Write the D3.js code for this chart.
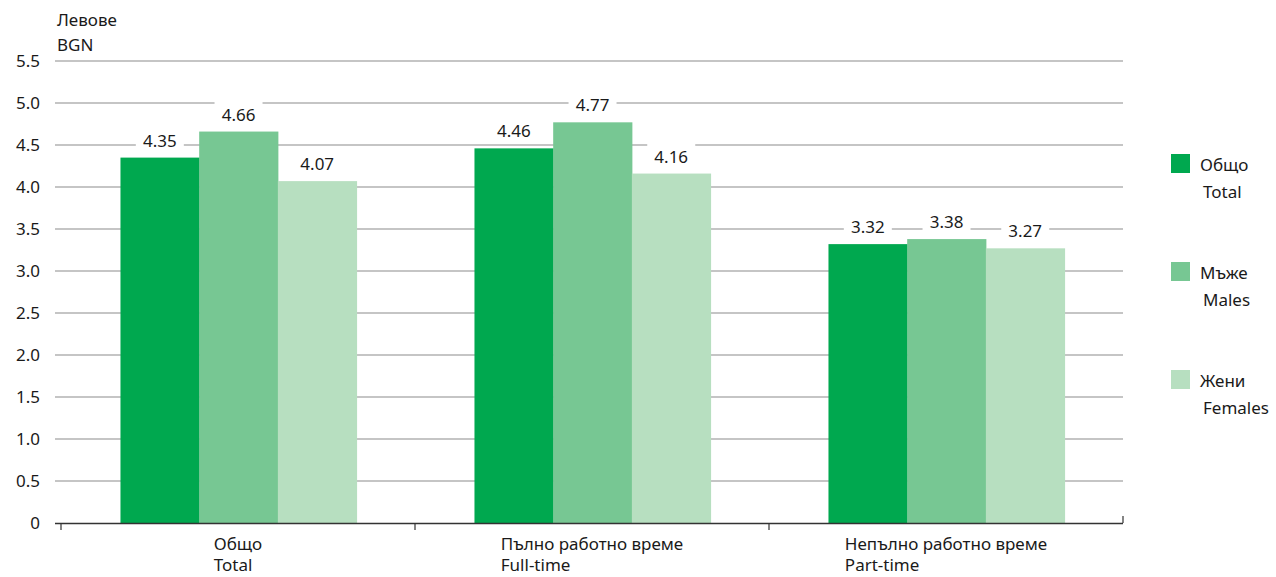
<!DOCTYPE html>
<html><head><meta charset="utf-8">
<script src="https://cdn.jsdelivr.net/npm/d3@7"></script>
<style>body{margin:0;background:#fff}svg{display:block}text{font-family:"Noto Sans","Open Sans",sans-serif;fill:#1a1a1a}</style>
</head><body><svg id="c" width="1276" height="577"></svg>
<script>
const categoriesBg = ["Общо","Пълно работно време","Непълно работно време"];
const categoriesEn = ["Total","Full-time","Part-time"];
const seriesBg = ["Общо","Мъже","Жени"];
const seriesEn = ["Total","Males","Females"];
const totalVals = [4.35, 4.46, 3.32];
const maleVals = [4.66, 4.77, 3.38];
const femaleVals = [4.07, 4.16, 3.27];
const yTicks = [0,0.5,1.0,1.5,2.0,2.5,3.0,3.5,4.0,4.5,5.0,5.5];
const colors = ["#00a84f","#77c793","#b7dfc0"];

const svg = d3.select("#c");
const y = d3.scaleLinear().domain([0,5.5]).range([523,61]);
const x0 = d3.scaleBand().domain(d3.range(3)).range([61,1123]).paddingInner(0).paddingOuter(0);
const bw = x0.bandwidth();
const inner = d3.scaleBand().domain(d3.range(3)).range([bw*0.168, bw*0.835]).padding(0);
const series = [totalVals, maleVals, femaleVals];

// gridlines
svg.append("g").selectAll("line").data(yTicks.filter(d=>d>0)).join("line")
 .attr("x1",55).attr("x2",1123).attr("y1",d=>y(d)).attr("y2",d=>y(d))
 .attr("stroke","#8c8c8c").attr("stroke-width",1.2);
// y labels
svg.append("g").selectAll("text").data(yTicks).join("text")
 .attr("x",40).attr("y",d=>y(d)+6).attr("text-anchor","end").attr("font-size",17)
 .text(d=>d===0?"0":d.toFixed(1));
svg.append("text").attr("x",57).attr("y",26).attr("font-size",17).text("Левове");
svg.append("text").attr("x",57).attr("y",51).attr("font-size",17).text("BGN");

// bars
series.forEach((vals,si)=>{
  const g = svg.append("g");
  g.selectAll("rect").data(vals).join("rect")
   .attr("x",(d,i)=>x0(i)+inner(si)).attr("width",inner.bandwidth()+0.5)
   .attr("y",d=>y(d)).attr("height",d=>y(0)-y(d)).attr("fill",colors[si]);
});
// labels
series.forEach((vals,si)=>{
  vals.forEach((v,i)=>{
    const cx = x0(i)+inner(si)+inner.bandwidth()/2;
    const g = svg.append("g");
    g.append("rect").attr("x",cx-24).attr("y",y(v)-31).attr("width",48).attr("height",25).attr("fill","#fff");
    g.append("text").attr("x",cx).attr("y",y(v)-11).attr("text-anchor","middle").attr("font-size",17).text(v.toFixed(2));
  });
});

// x axis
svg.append("line").attr("x1",55).attr("x2",1123).attr("y1",523.5).attr("y2",523.5).attr("stroke","#333").attr("stroke-width",1.5);
const tickXs = [x0(0),x0(1),x0(2),x0(2)+x0.bandwidth()];
svg.append("g").selectAll("line").data(tickXs).join("line")
 .attr("x1",d=>d).attr("x2",d=>d).attr("y1",523).attr("y2",(d,i)=>i===3?516:530).attr("stroke","#333").attr("stroke-width",1.2);
categoriesBg.forEach((c,i)=>{
  const cx = x0(i)+x0.bandwidth()/2;
  const t = svg.append("text").attr("x",cx).attr("y",550).attr("text-anchor","middle").attr("font-size",17).text(c);
  const w = t.node().getComputedTextLength();
  svg.append("text").attr("x",cx-w/2).attr("y",571).attr("font-size",17).text(categoriesEn[i]);
});

// legend
seriesBg.forEach((s,i)=>{
  const ly = 154 + i*108;
  svg.append("rect").attr("x",1171).attr("y",ly).attr("width",19).attr("height",19).attr("fill",colors[i]);
  svg.append("text").attr("x",1200).attr("y",ly+17).attr("font-size",17).text(s);
  svg.append("text").attr("x",1203).attr("y",ly+44).attr("font-size",17).text(seriesEn[i]);
});
</script></body></html>
